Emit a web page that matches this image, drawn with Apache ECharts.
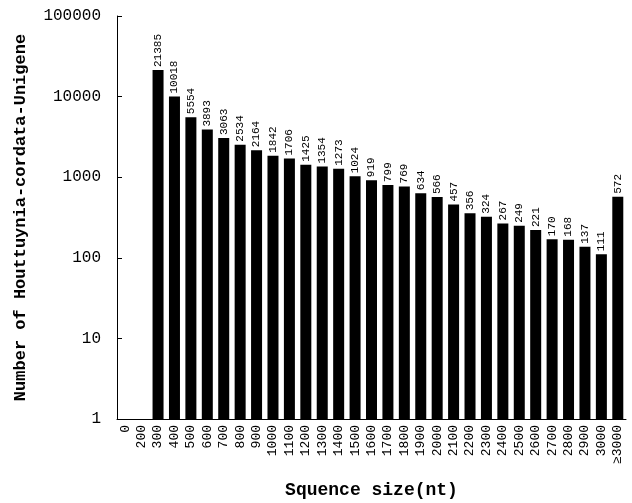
<!DOCTYPE html>
<html>
<head>
<meta charset="utf-8">
<script src="https://cdn.jsdelivr.net/npm/echarts@6/dist/echarts.min.js"></script>
<style>
	html, body { margin: 0; padding: 0; background: #fff; }
	#chart { width: 632px; height: 503px; }
</style>
</head>
<body>
<div id="chart"></div>
<script>
	// sequence size bins (nt)
	var sizeBins = ['0', '200', '300', '400', '500', '600', '700', '800', '900', '1000',
		'1100', '1200', '1300', '1400', '1500', '1600', '1700', '1800', '1900', '2000',
		'2100', '2200', '2300', '2400', '2500', '2600', '2700', '2800', '2900', '3000', '≥3000'];

	// unigene counts per bin, empty for 0 and 200
	var unigeneCounts = [null, null, 21385, 10018, 5554, 3893, 3063, 2534, 2164, 1842,
		1706, 1425, 1354, 1273, 1024, 919, 799, 769, 634, 566,
		457, 356, 324, 267, 249, 221, 170, 168, 137, 111, 572];

	var monoFont = '"Liberation Mono", "DejaVu Sans Mono", monospace';

	var chart = echarts.init(document.getElementById('chart'));
	chart.setOption({
		animation: false,
		grid: {
			left: 117,
			right: 6,
			top: 16,
			bottom: 84,
			outerBoundsMode: 'none'
		},
		xAxis: {
			type: 'category',
			data: sizeBins,
			name: 'Squence size(nt)',
			nameLocation: 'middle',
			nameGap: 62,
			nameTextStyle: {
				fontFamily: monoFont,
				fontWeight: 'bold',
				fontSize: 18,
				color: '#000'
			},
			axisLine: { lineStyle: { color: '#000', width: 1 } },
			axisTick: { inside: true, length: 3, lineStyle: { color: '#000' } },
			axisLabel: {
				rotate: 90,
				interval: 0,
				margin: 6,
				fontFamily: monoFont,
				fontSize: 13,
				color: '#000'
			}
		},
		yAxis: {
			type: 'log',
			logBase: 10,
			min: 1,
			max: 100000,
			name: 'Number of Houttuynia-cordata-Unigene',
			nameLocation: 'middle',
			nameGap: 88,
			nameTextStyle: {
				fontFamily: monoFont,
				fontWeight: 'bold',
				fontSize: 17,
				color: '#000'
			},
			axisLine: { show: true, lineStyle: { color: '#000', width: 1 } },
			axisTick: { show: true, inside: true, length: 5, lineStyle: { color: '#000' } },
			axisLabel: {
				margin: 16,
				fontFamily: monoFont,
				fontSize: 16,
				color: '#000',
				formatter: function (v) { return String(Math.round(v)); }
			},
			splitLine: { show: false }
		},
		series: [
			{
				type: 'bar',
				data: unigeneCounts,
				barCategoryGap: '33%',
				itemStyle: { color: '#000' },
				label: {
					show: true,
					position: 'top',
					rotate: 90,
					align: 'left',
					verticalAlign: 'middle',
					distance: 3,
					fontFamily: monoFont,
					fontSize: 11,
					color: '#000'
				}
			}
		]
	});
</script>
</body>
</html>
